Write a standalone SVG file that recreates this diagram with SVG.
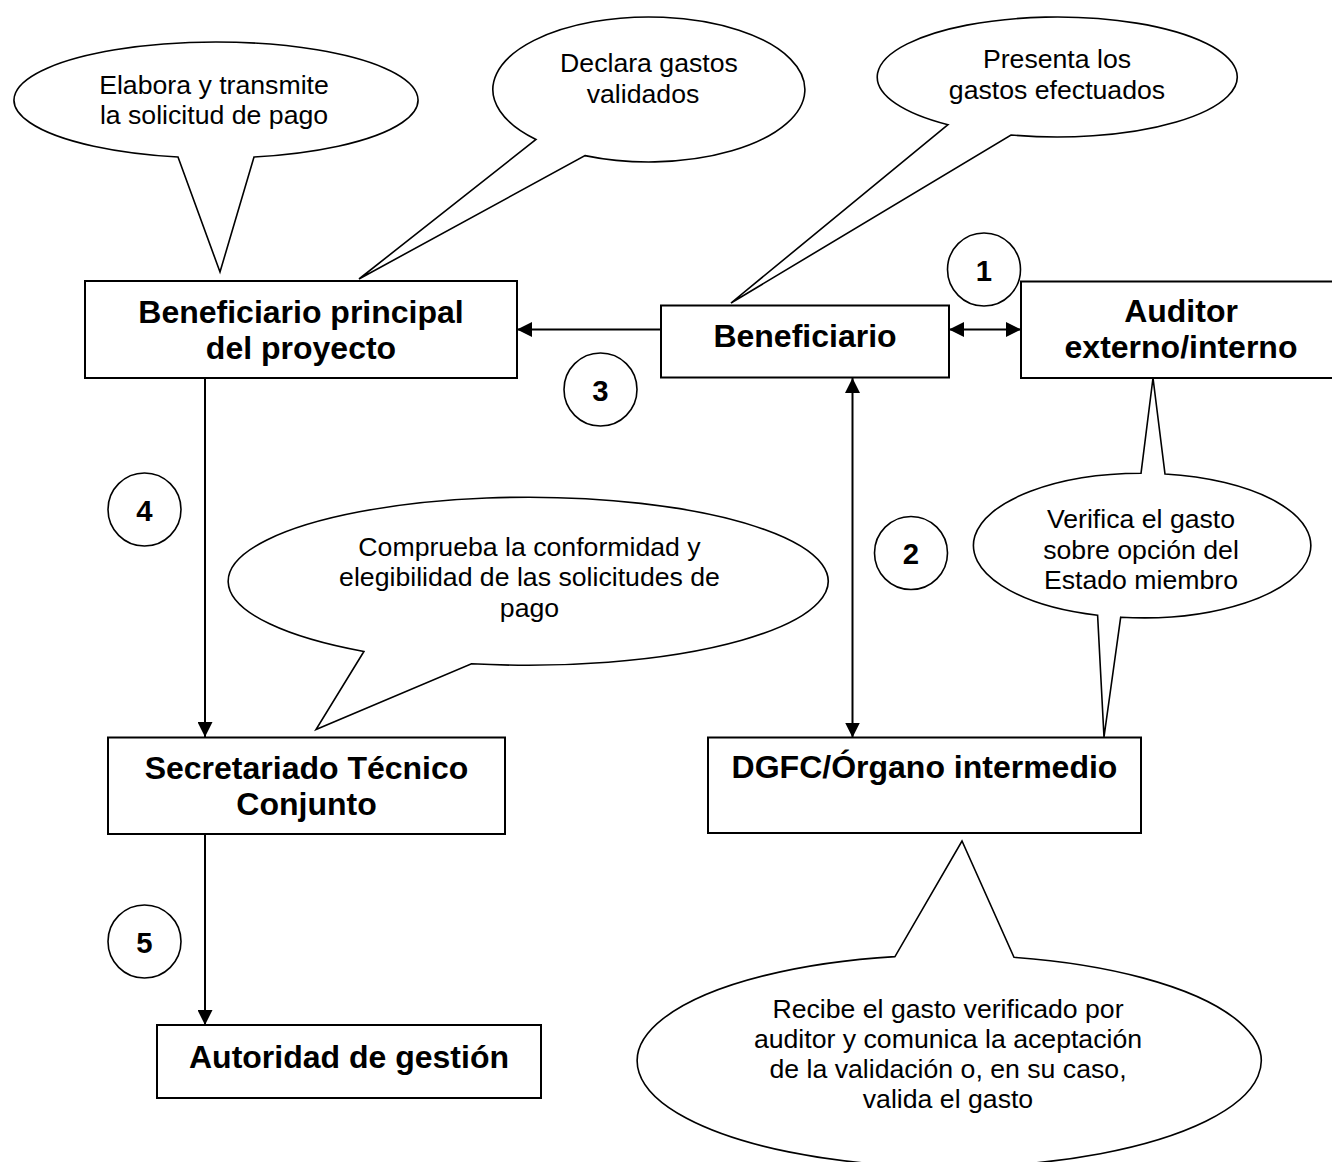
<svg xmlns="http://www.w3.org/2000/svg" width="1332" height="1162" viewBox="0 0 1332 1162">
<style>
.box{fill:#fff;stroke:#000;stroke-width:2}
.callout{fill:#fff;stroke:#000;stroke-width:1.6;stroke-linejoin:miter}
.num{fill:#fff;stroke:#000;stroke-width:1.6}
.conn{stroke:#000;stroke-width:2;fill:none}
.lbl{font-family:"Liberation Sans",Arial,sans-serif;font-weight:bold;font-size:32px;text-anchor:middle;fill:#000}
.txt{font-family:"Liberation Sans",Arial,sans-serif;font-size:26.67px;text-anchor:middle;fill:#000}
.n{font-family:"Liberation Sans",Arial,sans-serif;font-weight:bold;font-size:29.3px;text-anchor:middle;fill:#000}
</style>
<defs>
<marker id="ah" markerUnits="userSpaceOnUse" markerWidth="15" markerHeight="15" refX="15" refY="7.5" orient="auto-start-reverse" viewBox="0 0 15 15">
<path d="M0,0 L15,7.5 L0,15 Z" fill="#000"/>
</marker>
</defs>
<rect width="1332" height="1162" fill="#fff"/>

<g id="callout-elabora">
<path class="callout" d="M178 157 A202 58 0 1 1 254 157 L220 272 Z"/>
<text class="txt" x="214" y="94">Elabora y transmite</text>
<text class="txt" x="214" y="124">la solicitud de pago</text>
</g>
<g id="callout-declara">
<path class="callout" d="M536 139.5 A156 72.5 0 1 1 585 155.6 L359 279 Z"/>
<text class="txt" x="649" y="72">Declara gastos</text>
<text class="txt" x="643" y="102.5">validados</text>
</g>
<g id="callout-presenta">
<path class="callout" d="M948 124.7 A180 60 0 1 1 1011 135 L731 303 Z"/>
<text class="txt" x="1057" y="68">Presenta los</text>
<text class="txt" x="1057" y="99">gastos efectuados</text>
</g>
<g id="callout-verifica">
<path class="callout" d="M1141 473.3 L1153 378 L1165 474 A168 72.2 0 0 1 1120.7 617.2 L1104 737 L1097.6 615.2 A168 72.2 0 0 1 1141 473.3 Z"/>
<text class="txt" x="1141" y="528">Verifica el gasto</text>
<text class="txt" x="1141" y="558.5">sobre opción del</text>
<text class="txt" x="1141" y="589">Estado miembro</text>
</g>
<g id="callout-comprueba">
<path class="callout" d="M363.9 651.5 A300 84 0 1 1 471.5 663.7 L316 729.5 Z"/>
<text class="txt" x="529.5" y="555.5">Comprueba la conformidad y</text>
<text class="txt" x="529.5" y="586">elegibilidad de las solicitudes de</text>
<text class="txt" x="529.5" y="616.5">pago</text>
</g>
<g id="callout-recibe">
<path class="callout" d="M1014 957.3 A312 106 0 1 1 895 956.6 L962 841 Z"/>
<text class="txt" x="948" y="1018">Recibe el gasto verificado por</text>
<text class="txt" x="948" y="1048">auditor y comunica la aceptación</text>
<text class="txt" x="948" y="1078">de la validación o, en su caso,</text>
<text class="txt" x="948" y="1108">valida el gasto</text>
</g>

<g id="connectors">
<line class="conn" x1="661" y1="329.5" x2="517" y2="329.5" marker-end="url(#ah)"/>
<line class="conn" x1="949" y1="329.5" x2="1021" y2="329.5" marker-start="url(#ah)" marker-end="url(#ah)"/>
<line class="conn" x1="852.5" y1="378" x2="852.5" y2="737.5" marker-start="url(#ah)" marker-end="url(#ah)"/>
<line class="conn" x1="205" y1="378" x2="205" y2="737" marker-end="url(#ah)"/>
<line class="conn" x1="205" y1="834" x2="205" y2="1025" marker-end="url(#ah)"/>
</g>

<g id="node-beneficiario-principal">
<rect class="box" x="85" y="281" width="432" height="97"/>
<text class="lbl" x="301" y="323">Beneficiario principal</text>
<text class="lbl" x="301" y="359">del proyecto</text>
</g>
<g id="node-beneficiario">
<rect class="box" x="661" y="305.5" width="288" height="72"/>
<text class="lbl" x="805" y="347">Beneficiario</text>
</g>
<g id="node-auditor">
<rect class="box" x="1021" y="281.5" width="330" height="96.5"/>
<text class="lbl" x="1181" y="322">Auditor</text>
<text class="lbl" x="1181" y="358">externo/interno</text>
</g>
<g id="node-secretariado">
<rect class="box" x="108" y="737.5" width="397" height="96.5"/>
<text class="lbl" x="306.5" y="779">Secretariado Técnico</text>
<text class="lbl" x="306.5" y="815">Conjunto</text>
</g>
<g id="node-dgfc">
<rect class="box" x="708" y="737.5" width="433" height="95.5"/>
<text class="lbl" x="924.5" y="778">DGFC/Órgano intermedio</text>
</g>
<g id="node-autoridad">
<rect class="box" x="157" y="1025" width="384" height="73"/>
<text class="lbl" x="349" y="1068">Autoridad de gestión</text>
</g>

<g id="step-1"><circle class="num" cx="984" cy="269.5" r="36.5"/><text class="n" x="984" y="280.5">1</text></g>
<g id="step-2"><circle class="num" cx="911" cy="553" r="36.5"/><text class="n" x="911" y="564">2</text></g>
<g id="step-3"><circle class="num" cx="600.5" cy="389.5" r="36.5"/><text class="n" x="600.5" y="400.5">3</text></g>
<g id="step-4"><circle class="num" cx="144.5" cy="509.5" r="36.5"/><text class="n" x="144.5" y="520.5">4</text></g>
<g id="step-5"><circle class="num" cx="144.5" cy="941.5" r="36.5"/><text class="n" x="144.5" y="952.5">5</text></g>
</svg>
